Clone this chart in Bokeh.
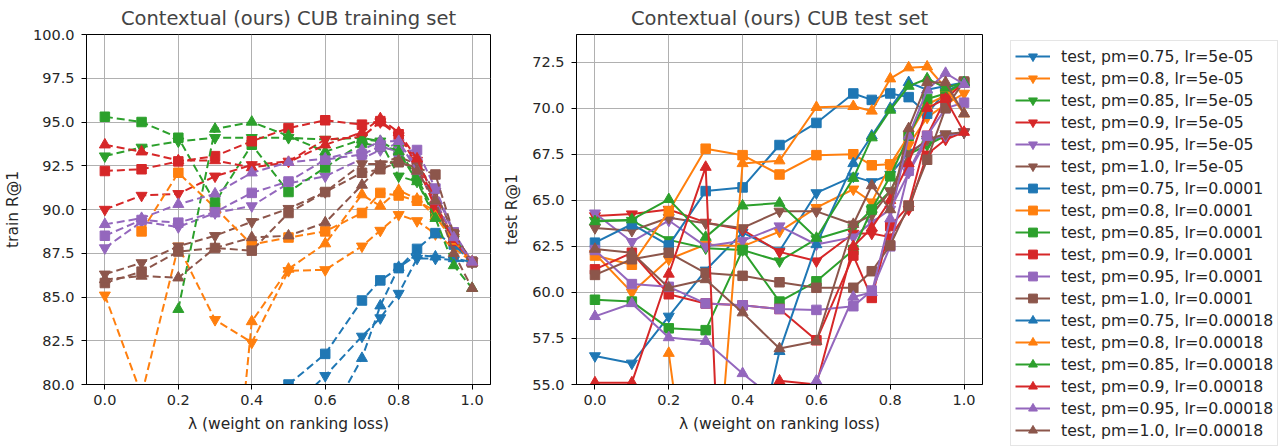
from bokeh.plotting import figure
from bokeh.layouts import row
from bokeh.models import Range1d, FixedTicker, NumeralTickFormatter, Legend, LegendItem
from bokeh.embed import file_html
from bokeh.resources import INLINE

nan = float("nan")

# ---------------- data ----------------
lam = [0.0, 0.1, 0.2, 0.3, 0.4, 0.5, 0.6, 0.7, 0.75, 0.8, 0.85, 0.9, 0.95, 1.0]
pms = ["0.75", "0.8", "0.85", "0.9", "0.95", "1.0"]
lrs = ["5e-05", "0.0001", "0.00018"]

# training set R@1 (dashed)
train_lr5e05_pm075 = [nan, nan, nan, nan, nan, 78.5, 80.5, 82.75, 83.8, 85.2, 87.2, 87.2, 87.1, 87.0]
train_lr5e05_pm080 = [85.1, 79.4, 87.9, 83.7, 82.4, 86.5, 86.55, 87.9, 88.8, 89.7, 89.35, 88.6, 87.8, 87.0]
train_lr5e05_pm085 = [93.05, 93.55, 93.9, 94.1, 94.1, 94.1, 94.0, 94.1, 93.9, 91.9, 91.6, 89.7, 88.3, 87.0]
train_lr5e05_pm090 = [90.0, 90.8, 90.9, 91.9, 92.55, 92.75, 94.0, 94.15, 95.0, 94.2, 92.8, 90.3, 88.4, 87.0]
train_lr5e05_pm095 = [87.8, 89.3, 89.0, 89.8, 90.2, 91.5, 91.9, 92.9, 93.4, 93.8, 92.5, 91.0, 88.6, 87.0]
train_lr5e05_pm100 = [86.3, 86.95, 87.9, 88.5, 89.3, 90.05, 91.0, 92.6, 92.6, 93.0, 92.6, 91.0, 88.6, 87.0]

train_lr1e04_pm075 = [nan, nan, nan, nan, nan, 80.0, 81.75, 84.8, 85.95, 86.65, 87.75, 88.65, 88.0, 87.0]
train_lr1e04_pm080 = [nan, 88.75, 92.1, 90.1, 88.0, 88.4, 88.75, 89.8, 90.95, 90.8, 90.5, 89.9, 88.4, 87.0]
train_lr1e04_pm085 = [95.3, 95.0, 94.1, 90.4, 93.7, 91.0, 92.4, 93.8, 93.6, 93.4, 91.8, 89.8, 88.5, 87.0]
train_lr1e04_pm090 = [92.2, 92.3, 92.75, 93.05, 93.9, 94.65, 95.1, 94.85, 95.05, 94.3, 92.5, 90.1, 88.2, 87.0]
train_lr1e04_pm095 = [88.5, 89.4, 89.25, 89.85, 90.95, 91.6, 92.85, 93.15, 93.6, 93.3, 93.4, 91.2, 88.7, 87.0]
train_lr1e04_pm100 = [85.8, 86.45, 87.6, 87.8, 87.65, 89.8, 91.0, 92.1, 92.3, 92.7, 92.4, 92.0, 88.6, 87.0]

train_lr18e05_pm075 = [nan, nan, nan, nan, nan, nan, 77.7, 81.5, 84.5, 86.7, 87.4, 87.3, 87.2, 87.0]
train_lr18e05_pm080 = [nan, nan, nan, 62.0, 83.6, 86.6, 88.05, 90.85, 90.2, 91.1, 90.6, 89.6, 88.2, 87.0]
train_lr18e05_pm085 = [nan, nan, 84.3, 94.6, 95.0, 94.2, 93.3, 94.0, 93.9, 93.3, 91.6, 89.5, 86.8, 85.5]
train_lr18e05_pm090 = [93.7, 93.3, 92.8, 92.8, 92.4, 92.7, 93.7, 94.4, 95.2, 94.4, 92.9, 90.5, 88.3, 87.0]
train_lr18e05_pm095 = [89.15, 89.5, 90.3, 90.9, 92.1, 92.7, 92.9, 93.4, 93.9, 93.9, 92.2, 90.5, 88.4, 87.0]
train_lr18e05_pm100 = [86.0, 86.2, 86.1, 87.8, 88.4, 88.5, 89.25, 91.4, 92.5, 92.8, 92.2, 90.5, 87.5, 85.5]

# test set R@1 (solid)
test_lr5e05_pm075 = [56.55, 56.15, 58.7, 61.2, 63.25, 62.25, 65.4, 66.3, 66.0, 66.4, 67.6, 68.2, 68.5, 68.7]
test_lr5e05_pm080 = [62.1, 60.0, 61.8, 62.6, 62.5, 63.3, 64.6, 65.6, 64.9, 66.9, 68.0, 69.5, 70.2, 70.8]
test_lr5e05_pm085 = [63.9, 63.9, 62.85, 62.4, 62.3, 61.7, 62.9, 63.5, 64.5, 65.5, 67.5, 68.0, 68.5, 68.7]
test_lr5e05_pm090 = [64.15, 64.25, 64.5, 63.8, 63.4, 62.2, 61.7, 63.2, 63.2, 63.0, 64.5, 67.5, 68.3, 68.7]
test_lr5e05_pm095 = [64.3, 62.75, 63.9, 62.5, 62.8, 63.6, 62.6, 63.0, 63.8, 64.5, 66.5, 68.3, 68.5, 68.7]
test_lr5e05_pm100 = [63.5, 63.35, 64.05, 63.75, 63.5, 64.4, 64.4, 63.7, 64.2, 65.5, 67.5, 68.3, 68.6, 68.7]

test_lr1e04_pm075 = [62.7, 63.7, 62.55, 65.5, 65.7, 68.0, 69.2, 70.8, 70.45, 70.8, 70.6, 69.7, 70.9, 71.4]
test_lr1e04_pm080 = [62.0, 61.5, 64.4, 67.8, 67.45, 66.4, 67.45, 67.5, 66.9, 66.95, 68.5, 70.2, 70.7, 71.4]
test_lr1e04_pm085 = [59.6, 59.5, 58.05, 57.95, 62.3, 59.5, 60.6, 62.3, 64.5, 66.3, 68.5, 70.5, 70.8, 71.4]
test_lr1e04_pm090 = [61.25, 62.15, 59.9, 59.4, 59.3, 59.1, 57.4, 62.0, 59.7, 63.6, 64.7, 68.5, 70.5, 71.4]
test_lr1e04_pm095 = [62.3, 60.45, 60.3, 59.4, 59.3, 59.1, 59.05, 59.25, 60.1, 62.5, 66.6, 68.5, 70.0, 70.3]
test_lr1e04_pm100 = [60.95, 61.8, 62.15, 61.05, 60.9, 60.55, 60.25, 60.25, 61.15, 62.55, 64.7, 67.2, 70.0, 71.45]

test_lr18e05_pm075 = [nan, nan, nan, nan, 48.0, 56.8, 62.6, 67.0, 68.5, 70.0, 71.4, 71.0, 71.2, 71.4]
test_lr18e05_pm080 = [nan, nan, 56.7, 42.0, 67.0, 67.15, 70.05, 70.1, 69.85, 71.6, 72.2, 72.25, 71.1, 69.7]
test_lr18e05_pm085 = [63.85, 63.95, 65.05, 63.0, 64.7, 64.85, 62.95, 66.2, 68.4, 69.9, 71.2, 71.6, 71.1, 71.4]
test_lr18e05_pm090 = [55.1, 55.1, 61.0, 66.8, 20.0, 55.2, 55.0, 62.5, 63.5, 65.0, 67.0, 70.0, 70.5, 68.7]
test_lr18e05_pm095 = [58.7, 59.4, 57.55, 57.35, 55.6, 54.0, 55.2, 59.75, 60.0, 64.0, 68.5, 71.0, 71.9, 71.3]
test_lr18e05_pm100 = [62.35, 62.15, 60.25, 60.7, 58.9, 56.95, 57.35, 63.7, 65.8, 64.5, 68.9, 71.4, 71.4, 69.7]

train_series = [
    [train_lr5e05_pm075, train_lr5e05_pm080, train_lr5e05_pm085, train_lr5e05_pm090, train_lr5e05_pm095, train_lr5e05_pm100],
    [train_lr1e04_pm075, train_lr1e04_pm080, train_lr1e04_pm085, train_lr1e04_pm090, train_lr1e04_pm095, train_lr1e04_pm100],
    [train_lr18e05_pm075, train_lr18e05_pm080, train_lr18e05_pm085, train_lr18e05_pm090, train_lr18e05_pm095, train_lr18e05_pm100],
]
test_series = [
    [test_lr5e05_pm075, test_lr5e05_pm080, test_lr5e05_pm085, test_lr5e05_pm090, test_lr5e05_pm095, test_lr5e05_pm100],
    [test_lr1e04_pm075, test_lr1e04_pm080, test_lr1e04_pm085, test_lr1e04_pm090, test_lr1e04_pm095, test_lr1e04_pm100],
    [test_lr18e05_pm075, test_lr18e05_pm080, test_lr18e05_pm085, test_lr18e05_pm090, test_lr18e05_pm095, test_lr18e05_pm100],
]

train_yticks = [80.0, 82.5, 85.0, 87.5, 90.0, 92.5, 95.0, 97.5, 100.0]
test_yticks = [55.0, 57.5, 60.0, 62.5, 65.0, 67.5, 70.0, 72.5]
xticks = [0.0, 0.2, 0.4, 0.6, 0.8, 1.0]

# ---------------- style ----------------
COLORS = ["#1f77b4", "#ff7f0e", "#2ca02c", "#d62728", "#9467bd", "#8c564b"]
MARKERS = ["inverted_triangle", "square", "triangle"]
MSIZE = {"inverted_triangle": 11, "square": 9.5, "triangle": 11}
FONT = "DejaVu Sans"


def style(p, ylabel, yticks):
    p.title.text_font = FONT
    p.title.text_font_size = "19.5px"
    p.title.text_font_style = "normal"
    p.title.align = "center"
    p.title.standoff = 9
    p.outline_line_color = "black"
    p.outline_line_width = 1
    p.outline_line_alpha = 1
    for ax in (p.xaxis[0], p.yaxis[0]):
        ax.major_label_text_font = FONT
        ax.major_label_text_font_size = "14.5px"
        ax.major_label_text_color = "#262626"
        ax.axis_label_text_font = FONT
        ax.axis_label_text_font_size = "15.5px"
        ax.axis_label_text_font_style = "normal"
        ax.axis_label_text_color = "#262626"
        ax.major_tick_out = 5
        ax.major_tick_in = 0
        ax.minor_tick_out = 0
        ax.minor_tick_in = 0
        ax.axis_line_color = "black"
        ax.major_tick_line_color = "black"
    p.xaxis[0].ticker = FixedTicker(ticks=xticks)
    p.xaxis[0].formatter = NumeralTickFormatter(format="0.0")
    p.xaxis[0].axis_label = "\u03bb (weight on ranking loss)"
    p.xaxis[0].major_label_standoff = 5
    p.xaxis[0].axis_label_standoff = 7
    p.yaxis[0].ticker = FixedTicker(ticks=yticks)
    p.yaxis[0].formatter = NumeralTickFormatter(format="0.0")
    p.yaxis[0].axis_label = ylabel
    p.yaxis[0].major_label_standoff = 7
    p.yaxis[0].axis_label_standoff = 8
    p.grid.grid_line_color = "#b0b0b0"
    p.grid.grid_line_width = 1
    p.grid.grid_line_alpha = 1


p1 = figure(title="Contextual (ours) CUB training set", output_backend="svg", toolbar_location=None,
            frame_width=404, frame_height=350, min_border_left=83, min_border_right=10,
            min_border_top=27, min_border_bottom=50,
            x_range=Range1d(-0.05, 1.05), y_range=Range1d(80, 100))
style(p1, "train R@1", train_yticks)

p2 = figure(title="Contextual (ours) CUB test set", output_backend="svg", toolbar_location=None,
            frame_width=406, frame_height=350, min_border_left=73, min_border_right=291,
            min_border_top=27, min_border_bottom=50,
            x_range=Range1d(-0.05, 1.05), y_range=Range1d(55, 74.0))
style(p2, "test R@1", test_yticks)

items = []
for li, lr in enumerate(lrs):
    mk = MARKERS[li]
    for pi, pm in enumerate(pms):
        c = COLORS[pi]
        ytr = train_series[li][pi]
        yte = test_series[li][pi]
        p1.line(lam, ytr, line_color=c, line_width=2, line_dash="8 4")
        p1.scatter(lam, ytr, marker=mk, size=MSIZE[mk], fill_color=c, line_color=c)
        r1 = p2.line(lam, yte, line_color=c, line_width=2)
        r2 = p2.scatter(lam, yte, marker=mk, size=MSIZE[mk], fill_color=c, line_color=c)
        items.append(LegendItem(label="test, pm=%s, lr=%s" % (pm, lr), renderers=[r1, r2]))

legend = Legend(items=items, location=(28, -62))
legend.label_text_font = FONT
legend.label_text_font_size = "15.7px"
legend.label_text_color = "#262626"
legend.glyph_width = 35
legend.glyph_height = 22
legend.label_height = 22
legend.spacing = 0
legend.label_standoff = 11
legend.padding = 4
legend.margin = 0
legend.border_line_color = "#cccccc"
legend.border_line_width = 1
legend.background_fill_alpha = 0.85
p2.add_layout(legend, "right")

layout = row(p1, p2)
open("out.html", "w").write(file_html(layout, INLINE))
